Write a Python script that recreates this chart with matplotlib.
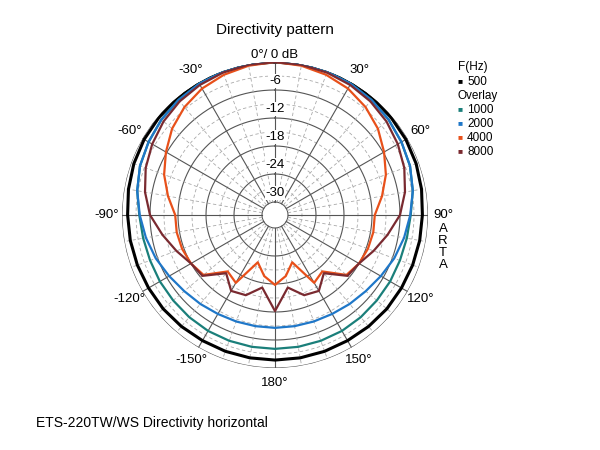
import numpy as np
import matplotlib.pyplot as plt

plt.rcParams["font.family"] = "Liberation Sans"

# angles 0..180 deg (mirrored for the other side), levels in dB
angles = [0, 10, 20, 30, 40, 50, 60, 70, 80, 90, 100, 110, 120, 130, 140, 150, 160, 170, 180]
f500 = [0, 0, 0, -0.1, -0.2, -0.3, -0.4, -0.6, -0.9, -1.2, -1.3, -1.4, -1.5, -1.5, -1.6, -1.7, -1.7, -1.7, -1.7]
f1000 = [0, 0, -0.1, -0.3, -0.6, -1.0, -1.5, -2.0, -2.8, -3.7, -4.1, -4.3, -4.3, -4.3, -4.2, -4.1, -4.1, -4.1, -4.1]
f2000 = [0, 0, -0.1, -0.3, -0.6, -1.0, -1.5, -2.0, -2.8, -3.8, -4.7, -5.6, -6.6, -7.4, -7.9, -8.3, -8.5, -8.6, -8.6]
f4000 = [0, -0.3, -0.8, -1.5, -2.6, -4.0, -5.8, -7.5, -9.5, -11.4, -11.4, -11.6, -12.0, -12.8, -17.0, -16.0, -22.0, -19.5, -17.8]
f8000 = [0, -0.1, -0.3, -0.6, -1.0, -1.6, -2.4, -3.3, -4.5, -6.0, -8.3, -10.3, -12.0, -12.5, -16.5, -14.0, -14.5, -17.0, -12.2]
series = [("500", f500, "black", 2.2), ("1000", f1000, "#1a7f7a", 1.6),
          ("2000", f2000, "#1f77c8", 1.6), ("4000", f4000, "#e8501a", 1.6),
          ("8000", f8000, "#7a2a30", 1.6)]
ring_db = [0, -6, -12, -18, -24, -30]
angle_labels = {0: "0°/ 0 dB", 30: "30°", 60: "60°", 90: "90°", 120: "120°", 150: "150°",
                180: "180°", -30: "-30°", -60: "-60°", -90: "-90°", -120: "-120°", -150: "-150°"}

R0, R30 = 153, 13
def rad(db):
    return R30 + (np.asarray(db) + 30) * (R0 - R30) / 30

fig = plt.figure(figsize=(6, 4.5), dpi=100)
ax = fig.add_axes([(275 - R0) / 600, (235 - R0) / 450, 2 * R0 / 600, 2 * R0 / 450], projection="polar")
ax.set_theta_zero_location("N")
ax.set_theta_direction(-1)
ax.set_ylim(0, R0)
ax.grid(False)
ax.set_xticks([])
ax.set_yticks([])
ax.spines["polar"].set_visible(False)

t = np.linspace(0, 2 * np.pi, 400)
for d in ring_db:
    ax.plot(t, np.full_like(t, rad(d)), color="#555555", lw=0.8)
for d in np.arange(-3, -30, -6):
    ax.plot(t, np.full_like(t, rad(d)), color="#aaaaaa", lw=0.6, ls=(0, (4, 3)))
for a in range(0, 360, 10):
    th = np.deg2rad(a)
    if a % 30 == 0:
        ax.plot([th, th], [R30, R0], color="#555555", lw=0.8)
    else:
        ax.plot([th, th], [R30, R0], color="#aaaaaa", lw=0.6, ls=(0, (4, 3)))

ang = np.array(angles)
full_ang = np.deg2rad(np.concatenate([ang, 360 - ang[::-1][1:]]))
for name, vals, col, lw in series:
    v = np.array(vals)
    full = np.concatenate([v, v[::-1][1:]])
    ax.plot(full_ang, rad(full), color=col, lw=lw)

for d in ring_db[1:]:
    ax.text(0, rad(d) + 9, str(d), ha="center", va="center", fontsize=9.5,
            bbox=dict(fc="white", ec="none", pad=0.5))

for a, lab in angle_labels.items():
    r = R0 + 7 if a == 0 else 168
    ax.text(np.deg2rad(a), r, lab, ha="center", va="center", fontsize=9.5)

fig.text(275 / 600, 1 - 30 / 450, "Directivity pattern", ha="center", va="center", fontsize=11)
for i, ch in enumerate("ARTA"):
    fig.text(443 / 600, 1 - (229 + i * 12) / 450, ch, ha="center", va="center", fontsize=9.5)

fig.text(458 / 600, 1 - 67 / 450, "F(Hz)", fontsize=8.5, va="center")
y = 82
for i, (name, vals, col, lw) in enumerate(series):
    if i == 1:
        fig.text(458 / 600, 1 - y / 450, "Overlay", fontsize=8.5, va="center")
        y += 14
    fig.text(458 / 600, 1 - y / 450, "■", color=col, fontsize=6, va="center")
    fig.text(467 / 600, 1 - y / 450, name, fontsize=8.5, va="center")
    y += 14

fig.text(36 / 600, 1 - 423 / 450, "ETS-220TW/WS Directivity horizontal", fontsize=10, va="center")

plt.savefig("out.png", dpi=100)
